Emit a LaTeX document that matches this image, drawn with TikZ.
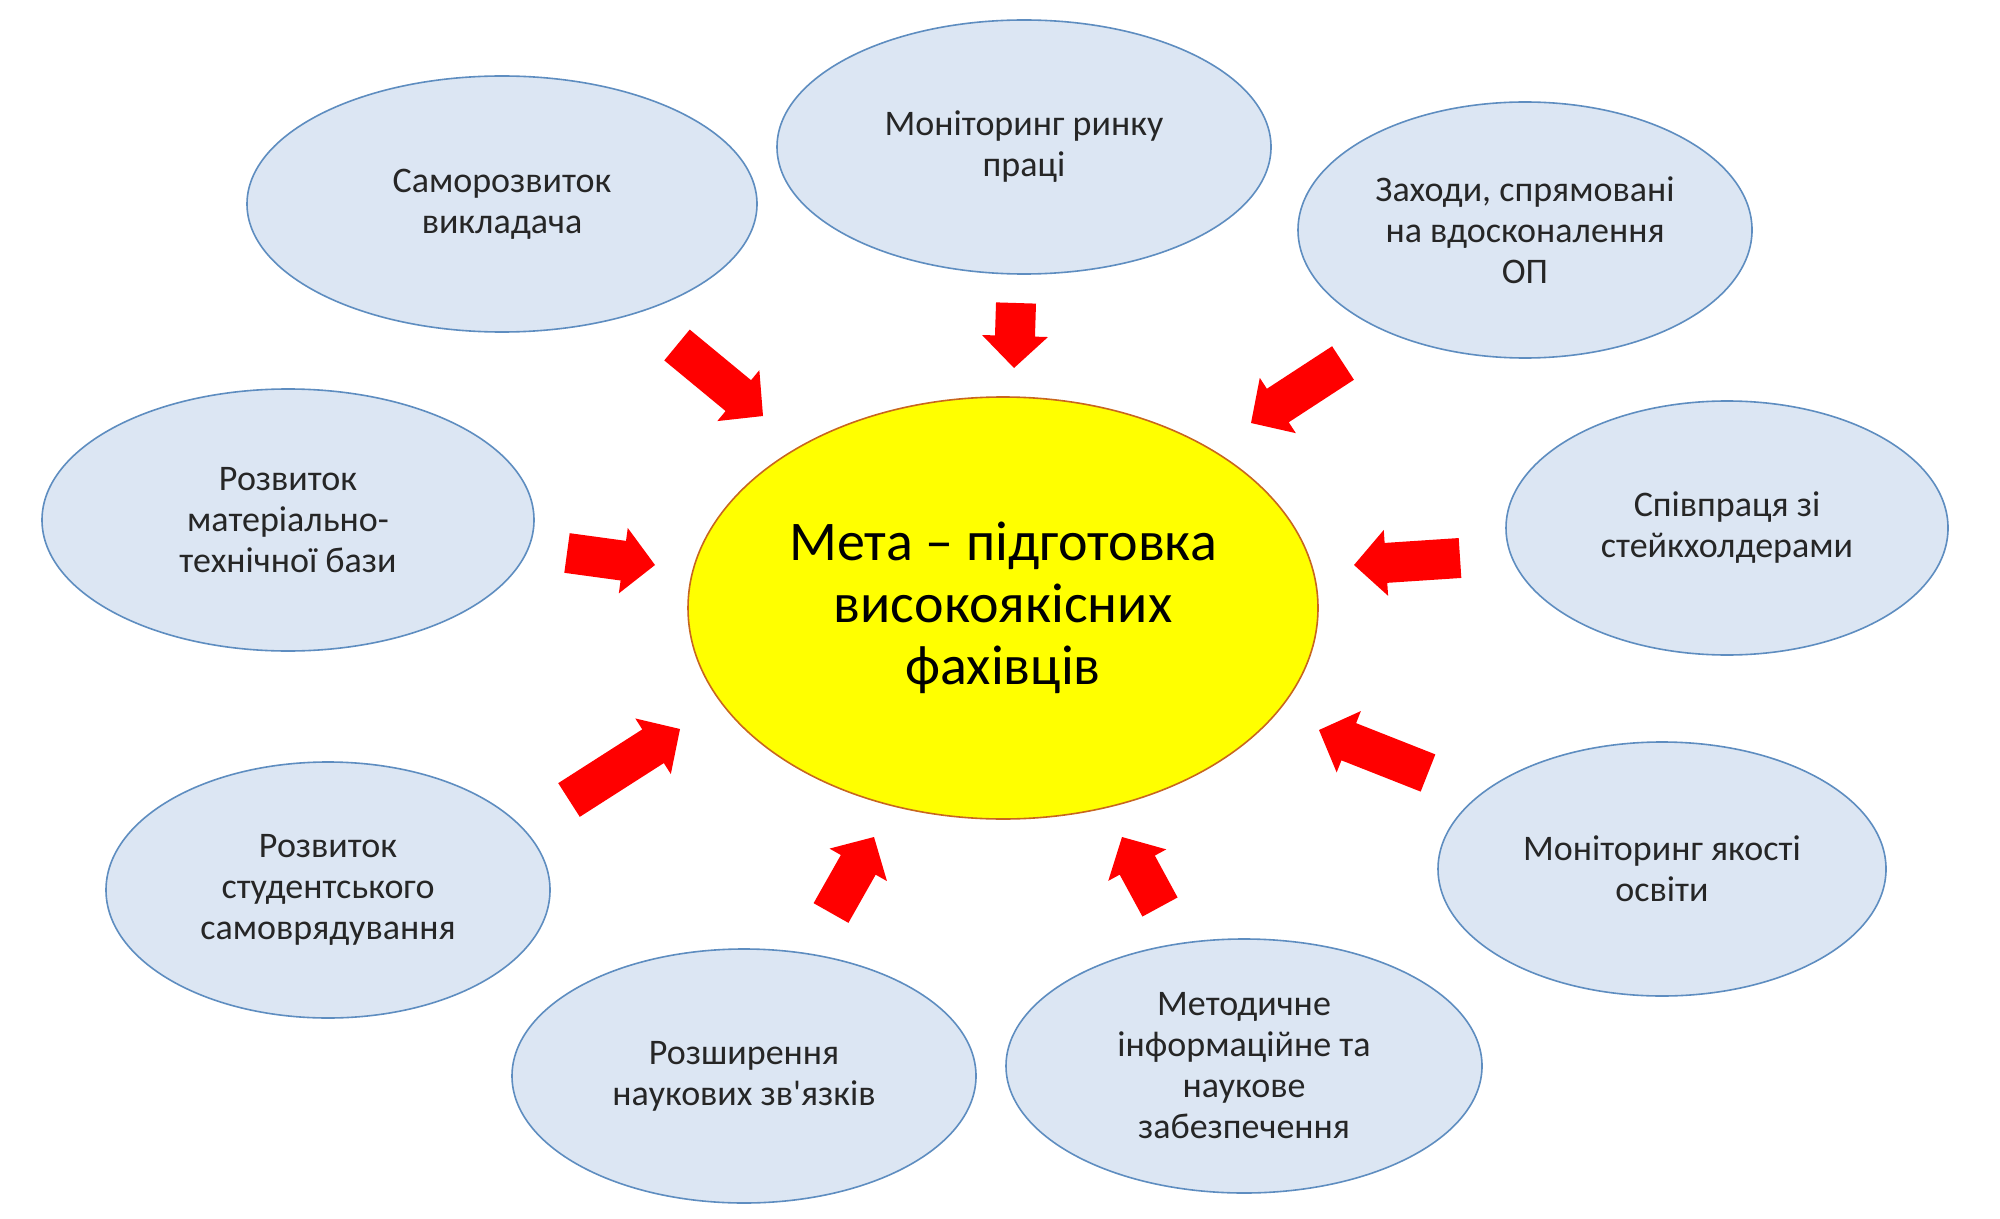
\documentclass[tikz,border=0pt]{standalone}
\usepackage{fontspec}
\setmainfont{Carlito}[Ligatures=TeXOff]
\usetikzlibrary{shapes.geometric,calc}
\definecolor{bubblefill}{HTML}{DCE6F3}
\definecolor{bubbleline}{HTML}{5E8DC0}
\definecolor{goalfill}{HTML}{FFFF00}
\definecolor{goalline}{HTML}{C8661E}
\definecolor{arrowred}{HTML}{FF0000}
\definecolor{txt}{HTML}{262626}
\tikzset{
  bubble/.style={ellipse, draw=bubbleline, line width=0.8pt, fill=bubblefill, inner sep=0pt,
    align=center, text=txt, font=\fontsize{18}{20.5}\selectfont},
  goal/.style={ellipse, draw=goalline, line width=0.8pt, fill=goalfill, inner sep=0pt,
    align=center, text=black, font=\fontsize{28}{31}\selectfont}
}
\newcommand\blockarrow[2]{%
  \fill[arrowred]
    ($(#1)!10pt!90:(#2)$) --
    ($($(#2)!16pt!(#1)$)!10pt!-90:(#1)$) --
    ($($(#2)!16pt!(#1)$)!16.5pt!-90:(#1)$) --
    (#2) --
    ($($(#2)!16pt!(#1)$)!16.5pt!90:(#1)$) --
    ($($(#2)!16pt!(#1)$)!10pt!90:(#1)$) --
    ($(#1)!10pt!-90:(#2)$) -- cycle;}
\begin{document}
\begin{tikzpicture}[x=0.5pt,y=-0.5pt]
\useasboundingbox[fill=white] (0,0) rectangle (2000,1219);
% central goal
\node[goal, minimum width=630*0.5pt, minimum height=422*0.5pt] (goal) at (1003,608)
  {Мета – підготовка\\високоякісних\\фахівців};
% surrounding bubbles
\node[bubble, minimum width=510*0.5pt, minimum height=256*0.5pt] (self) at (502,204)
  {Саморозвиток\\викладача};
\node[bubble, minimum width=494*0.5pt, minimum height=254*0.5pt] (labour) at (1024,147)
  {Моніторинг ринку\\праці};
\node[bubble, minimum width=454*0.5pt, minimum height=256*0.5pt] (measures) at (1525,230)
  {Заходи, спрямовані\\на вдосконалення\\ОП};
\node[bubble, minimum width=492*0.5pt, minimum height=262*0.5pt] (base) at (288,520)
  {Розвиток\\матеріально-\\технічної бази};
\node[bubble, minimum width=442*0.5pt, minimum height=254*0.5pt] (stake) at (1727,528)
  {Співпраця зі\\стейкхолдерами};
\node[bubble, minimum width=444*0.5pt, minimum height=256*0.5pt] (student) at (328,890)
  {Розвиток\\студентського\\самоврядування};
\node[bubble, minimum width=464*0.5pt, minimum height=254*0.5pt] (science) at (744,1076)
  {Розширення\\наукових зв'язків};
\node[bubble, minimum width=448*0.5pt, minimum height=254*0.5pt] (quality) at (1662,869)
  {Моніторинг якості\\освіти};
\node[bubble, minimum width=476*0.5pt, minimum height=254*0.5pt] (method) at (1244,1066)
  {Методичне\\інформаційне та\\наукове\\забезпечення};
% arrow end points
\coordinate (t1) at (677,345);  \coordinate (p1) at (763,416);
\coordinate (t2) at (1016,303); \coordinate (p2) at (1014,368);
\coordinate (t3) at (1343,363); \coordinate (p3) at (1251,423);
\coordinate (t4) at (567,553);  \coordinate (p4) at (655,565);
\coordinate (t5) at (1460,558); \coordinate (p5) at (1354,565);
\coordinate (t6) at (569,800);  \coordinate (p6) at (680,729);
\coordinate (t7) at (831,913);  \coordinate (p7) at (874,837);
\coordinate (t8) at (1160,907); \coordinate (p8) at (1122,837);
\coordinate (t9) at (1428,773); \coordinate (p9) at (1319,730);
\blockarrow{t1}{p1}
\blockarrow{t2}{p2}
\blockarrow{t3}{p3}
\blockarrow{t4}{p4}
\blockarrow{t5}{p5}
\blockarrow{t6}{p6}
\blockarrow{t7}{p7}
\blockarrow{t8}{p8}
\blockarrow{t9}{p9}
\end{tikzpicture}
\end{document}
